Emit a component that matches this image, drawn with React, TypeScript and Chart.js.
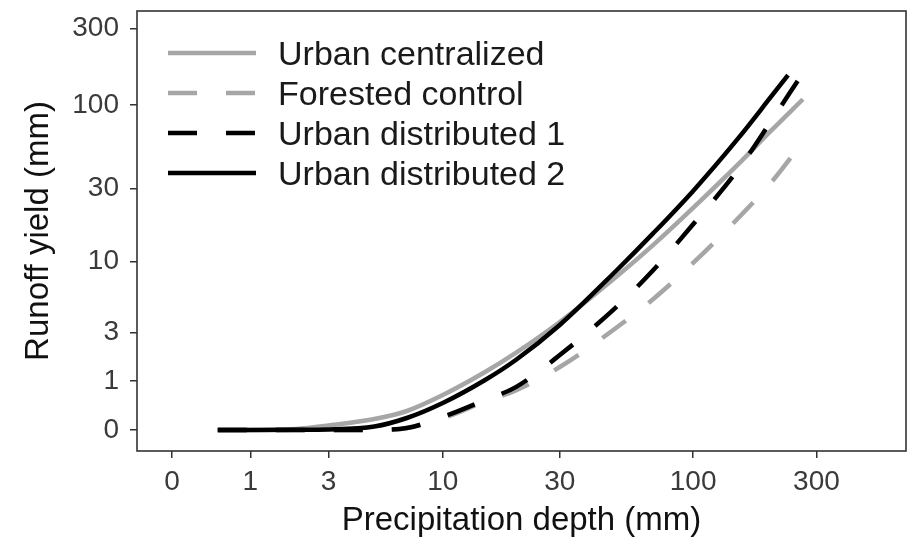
import React, { useEffect, useRef } from 'react';
import { Chart, registerables } from 'chart.js';

Chart.register(...registerables);

// Tick values (mm) on both pseudo-log axes
const xTickValues = [0, 1, 3, 10, 30, 100, 300];
const xTickLabels = ['0', '1', '3', '10', '30', '100', '300'];
const yTickValues = [0, 1, 3, 10, 30, 100, 300];
const yTickLabels = ['0', '1', '3', '10', '30', '100', '300'];

const seriesLabels = ['Urban centralized', 'Forested control', 'Urban distributed 1', 'Urban distributed 2'];

// Precipitation depth (mm) and runoff yield (mm) for each series
const precipUC = [0.5, 1, 2, 3, 5, 7, 10, 15, 20, 30, 50, 70, 100, 150, 200, 266];
const runoffUC = [0, 0, 0.014, 0.066, 0.169, 0.31, 0.644, 1.28, 1.99, 3.64, 7.8, 12.9, 22.5, 42.9, 69.1, 109];

const precipFC = [0.5, 1, 2, 3, 5, 7, 10, 15, 20, 30, 50, 70, 100, 150, 200, 266];
const runoffFC = [0, 0, 0, 0, 0.003, 0.029, 0.18, 0.5, 0.753, 1.448, 3.26, 5.44, 9.74, 19.4, 32.5, 59];

const precipUD1 = [0.5, 1, 2, 3, 5, 7, 10, 15, 20, 30, 50, 70, 100, 150, 200, 257];
const runoffUD1 = [0, 0, 0, 0, 0.003, 0.029, 0.203, 0.53, 0.84, 1.9, 4.71, 8.72, 17.6, 39.8, 79.2, 146];

const precipUD2 = [0.5, 1, 2, 3, 5, 7, 10, 15, 20, 30, 50, 70, 100, 150, 200, 233];
const runoffUD2 = [0, 0, 0.002, 0.007, 0.051, 0.186, 0.468, 1.035, 1.705, 3.45, 8.58, 15.4, 28.9, 62.5, 112.6, 154];

const FONT = "'Liberation Sans', Arial, Helvetica, sans-serif";
const t = (v: number) => Math.log10(v + 1);

const pts = (xs: number[], ys: number[]) => xs.map((x, i) => ({ x: t(x), y: t(ys[i]) }));

const frameAndLegend = {
  id: 'frameAndLegend',
  afterDraw(chart: any) {
    const { ctx, chartArea } = chart;
    ctx.save();
    ctx.strokeStyle = '#333';
    ctx.lineWidth = 1.6;
    ctx.strokeRect(chartArea.left, chartArea.top, chartArea.right - chartArea.left, chartArea.bottom - chartArea.top);
    // legend inside plot
    const ds = chart.data.datasets;
    const x0 = 168, x1 = 256, tx = 278, y0 = 53, dy = 40;
    ds.forEach((d: any, i: number) => {
      const y = y0 + i * dy;
      ctx.beginPath();
      ctx.setLineDash(d.borderDash || []);
      ctx.lineDashOffset = 0;
      ctx.strokeStyle = d.borderColor;
      ctx.lineWidth = d.borderWidth;
      ctx.lineCap = 'butt';
      ctx.moveTo(x0, y);
      ctx.lineTo(x1, y);
      ctx.stroke();
      ctx.setLineDash([]);
      ctx.fillStyle = '#1a1a1a';
      ctx.font = `34px ${FONT}`;
      ctx.textAlign = 'left';
      ctx.textBaseline = 'alphabetic';
      ctx.fillText(d.label, tx, y + 12);
    });
    ctx.restore();
  },
};

export default function App() {
  const ref = useRef<HTMLCanvasElement | null>(null);
  useEffect(() => {
    if (!ref.current) return;
    const gray = '#a6a6a6';
    const chart = new Chart(ref.current, {
      type: 'line',
      data: {
        datasets: [
          { label: seriesLabels[0], data: pts(precipUC, runoffUC), borderColor: gray, borderWidth: 4.5, borderDash: [], order: 3 },
          { label: seriesLabels[1], data: pts(precipFC, runoffFC), borderColor: gray, borderWidth: 4.5, borderDash: [29, 29], order: 2 },
          { label: seriesLabels[2], data: pts(precipUD1, runoffUD1), borderColor: '#000', borderWidth: 4.5, borderDash: [29, 29], order: 1 },
          { label: seriesLabels[3], data: pts(precipUD2, runoffUD2), borderColor: '#000', borderWidth: 4.5, borderDash: [], order: 0 },
        ].map((d) => ({ ...d, pointRadius: 0, fill: false, cubicInterpolationMode: 'monotone' as const, borderCapStyle: 'butt' as const })),
      },
      options: {
        animation: false,
        responsive: false,
        devicePixelRatio: 1,
        layout: { padding: { top: 11, right: 3, left: 0, bottom: 0 } },
        plugins: { legend: { display: false }, tooltip: { enabled: false } },
        scales: {
          x: {
            type: 'linear',
            min: -0.1346,
            max: 2.823,
            afterBuildTicks: (scale: any) => {
              scale.ticks = xTickValues.map((v) => ({ value: t(v) }));
            },
            afterFit: (scale: any) => {
              scale.height = 93;
              scale.paddingLeft = 0;
              scale.paddingRight = 0;
            },
            grid: { display: true, drawOnChartArea: false, drawTicks: true, tickLength: 7, color: '#333', lineWidth: 1.5 },
            border: { display: false },
            ticks: {
              autoSkip: false,
              maxRotation: 0,
              padding: 7,
              color: '#3a3a3a',
              font: { size: 28, family: FONT },
              callback: (_v: any, i: number) => xTickLabels[i],
            },
            title: {
              display: true,
              text: 'Precipitation depth (mm)',
              color: '#111',
              font: { size: 33, family: FONT },
              padding: { top: 0, bottom: 3 },
            },
          },
          y: {
            type: 'linear',
            min: -0.1296,
            max: 2.586,
            afterBuildTicks: (scale: any) => {
              scale.ticks = yTickValues.map((v) => ({ value: t(v) }));
            },
            afterFit: (scale: any) => {
              scale.width = 137;
              scale.paddingTop = 0;
              scale.paddingBottom = 0;
            },
            grid: { display: true, drawOnChartArea: false, drawTicks: true, tickLength: 7, color: '#333', lineWidth: 1.5 },
            border: { display: false },
            ticks: {
              autoSkip: false,
              padding: 11,
              color: '#3a3a3a',
              font: { size: 28, family: FONT },
              callback: (_v: any, i: number) => yTickLabels[i],
            },
            title: {
              display: true,
              text: 'Runoff yield (mm)',
              color: '#111',
              font: { size: 33, family: FONT },
              padding: { top: 19, bottom: 0 },
            },
          },
        },
      },
      plugins: [frameAndLegend],
    });
    return () => chart.destroy();
  }, []);
  return (
    <div style={{ position: 'absolute', left: 0, top: 0, width: 909, height: 544, background: '#fff' }}>
      <canvas ref={ref} width={909} height={544} />
    </div>
  );
}
